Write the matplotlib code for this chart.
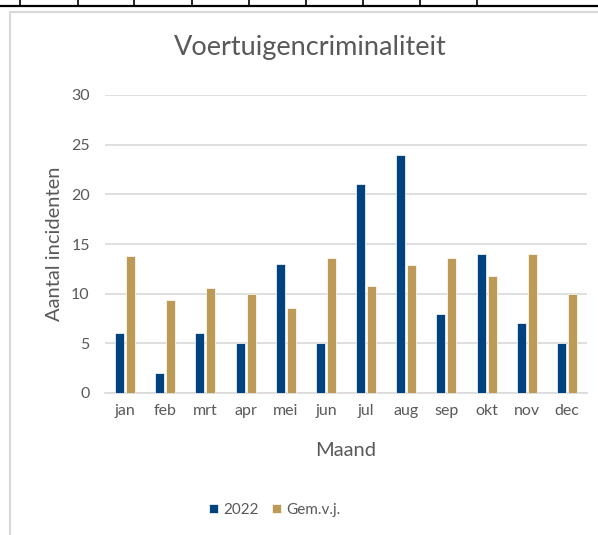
import numpy as np
import matplotlib.pyplot as plt
from matplotlib.lines import Line2D
from matplotlib.patches import Rectangle

plt.rcParams['font.family'] = ['Lato', 'DejaVu Sans']

BLUE = '#00427F'
GOLD = '#BD9A56'
GRID = '#D9D9D9'
TEXT = '#595959'

maanden = ['jan', 'feb', 'mrt', 'apr', 'mei', 'jun', 'jul', 'aug', 'sep', 'okt', 'nov', 'dec']
jaar_2022 = [6, 2, 6, 5, 13, 5, 21, 24, 8, 14, 7, 5]
gem_vj = [13.8, 9.4, 10.6, 10.0, 8.6, 13.6, 10.8, 12.9, 13.6, 11.8, 14.0, 10.0]

fig = plt.figure(figsize=(5.98, 5.35), dpi=100)
fig.patch.set_facecolor('white')

# spreadsheet cell borders at the top
fig.add_artist(Line2D([0, 1], [1 - 6 / 535, 1 - 6 / 535], color='black', lw=1.6))
for px in [20, 78, 134, 192, 249, 306, 363, 420, 477]:
    fig.add_artist(Line2D([px / 598, px / 598], [1 - 6 / 535, 1], color='black', lw=1.2))

# chart area border
fig.add_artist(Rectangle((10 / 598, -0.05), 1.0, 1 - 12 / 535 + 0.05,
                         fill=False, edgecolor=GRID, lw=1.5))

ax = fig.add_axes([105 / 598, 142 / 535, 482 / 598, 298 / 535])
x = np.arange(len(maanden))
w = 0.225
ax.bar(x - w / 2 - 0.025, jaar_2022, width=w, color=BLUE, edgecolor='white', linewidth=0.5,
       label='2022', zorder=3)
ax.bar(x + w / 2 + 0.025, gem_vj, width=w, color=GOLD, edgecolor='white', linewidth=0.5,
       label='Gem.v.j.', zorder=3)

ax.set_xlim(-0.5, len(maanden) - 0.5)
ax.set_ylim(0, 30)
ax.set_yticks(range(0, 31, 5))
ax.set_xticks(x)
ax.set_xticklabels(maanden)
ax.tick_params(axis='both', length=0, colors=TEXT, labelsize=11.5)
ax.tick_params(axis='y', pad=11)
ax.tick_params(axis='x', pad=8)
ax.grid(axis='y', color=GRID, lw=1.2, zorder=0)
for s in ['top', 'right', 'left']:
    ax.spines[s].set_visible(False)
ax.spines['bottom'].set_color(GRID)
ax.spines['bottom'].set_linewidth(1.2)

ax.set_xlabel('Maand', fontsize=14.5, color=TEXT, labelpad=17.5)
ax.set_ylabel('Aantal incidenten', fontsize=14.5, color=TEXT, labelpad=6)
fig.text(310 / 598, 1 - 48 / 535, 'Voertuigencriminaliteit', fontsize=19.5, color=TEXT,
         ha='center', va='center')

fig.legend(loc='center', bbox_to_anchor=(275 / 598, 1 - 510 / 535), ncol=2, frameon=False,
           fontsize=11, labelcolor=TEXT, handlelength=0.6, handleheight=0.6,
           handletextpad=0.35, columnspacing=0.85)

fig.savefig('out.png', dpi=100, facecolor='white')
